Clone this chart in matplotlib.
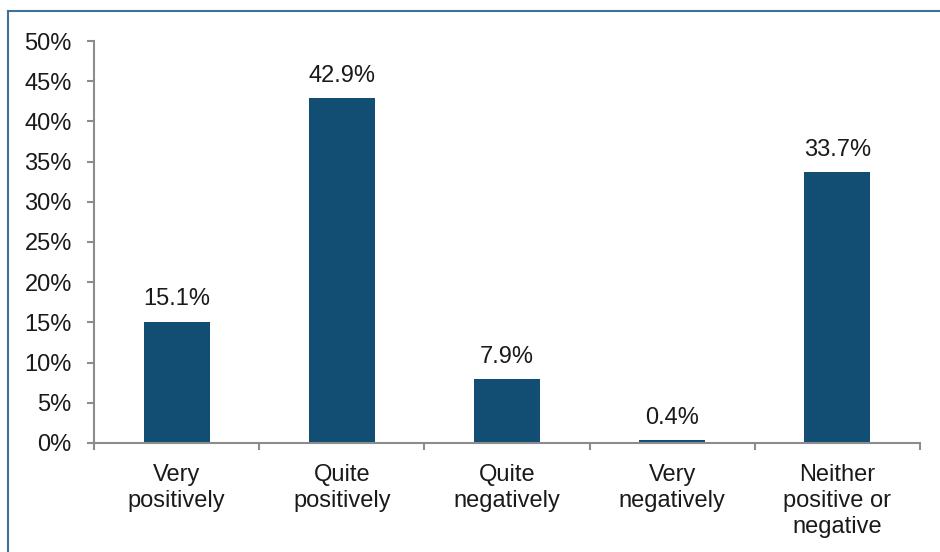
import matplotlib
matplotlib.use("Agg")
from matplotlib import pyplot as plt
from matplotlib.lines import Line2D
from matplotlib.ticker import FixedLocator, PercentFormatter

categories = ["Very\npositively", "Quite\npositively", "Quite\nnegatively",
              "Very\nnegatively", "Neither\npositive or\nnegative"]
shares = [15.1, 42.9, 7.9, 0.4, 33.7]
y_ticks = [0, 5, 10, 15, 20, 25, 30, 35, 40, 45, 50]

plt.rcParams['font.family'] = ['Liberation Sans', 'DejaVu Sans']

fig = plt.figure(figsize=(9.4, 5.52), dpi=100)
ax = fig.add_axes([0.1, 0.1975, 0.8787, 0.7282])

x = range(len(categories))
bars = ax.bar(x, shares, width=0.4, color='#124e74')

for b, v in zip(bars, shares):
    ax.annotate(f"{v:.1f}%", (b.get_x() + b.get_width() / 2, v),
                xytext=(0, 8), textcoords='offset points',
                ha='center', va='bottom', fontsize=17, color='#1a1a1a')

ax.set_xlim(-0.5, len(categories) - 0.5)
ax.set_ylim(0, 50)
ax.set_yticks(y_ticks)
ax.yaxis.set_major_formatter(PercentFormatter(decimals=0))

ax.set_xticks(list(x))
ax.set_xticklabels(categories, linespacing=1.25)
ax.xaxis.set_minor_locator(FixedLocator([i - 0.5 for i in range(len(categories) + 1)]))

for s in ['top', 'right']:
    ax.spines[s].set_visible(False)
for s in ['left', 'bottom']:
    ax.spines[s].set_color('#8c8c8c')
    ax.spines[s].set_linewidth(1.5)

ax.tick_params(axis='y', which='major', length=5, width=1.5, color='#8c8c8c',
               labelsize=17, pad=11, labelcolor='#1a1a1a')
ax.tick_params(axis='x', which='major', length=0, labelsize=17, pad=15,
               labelcolor='#1a1a1a')
ax.tick_params(axis='x', which='minor', length=5, width=1.5, color='#8c8c8c')

# frame lines of the original slide
fig.add_artist(Line2D([0.0085, 1.0], [0.980, 0.980], color='#3f7197', lw=1.5))
fig.add_artist(Line2D([0.0085, 0.0085], [0.0, 0.980], color='#3f7197', lw=1.5))

fig.savefig('out.png', dpi=100)
